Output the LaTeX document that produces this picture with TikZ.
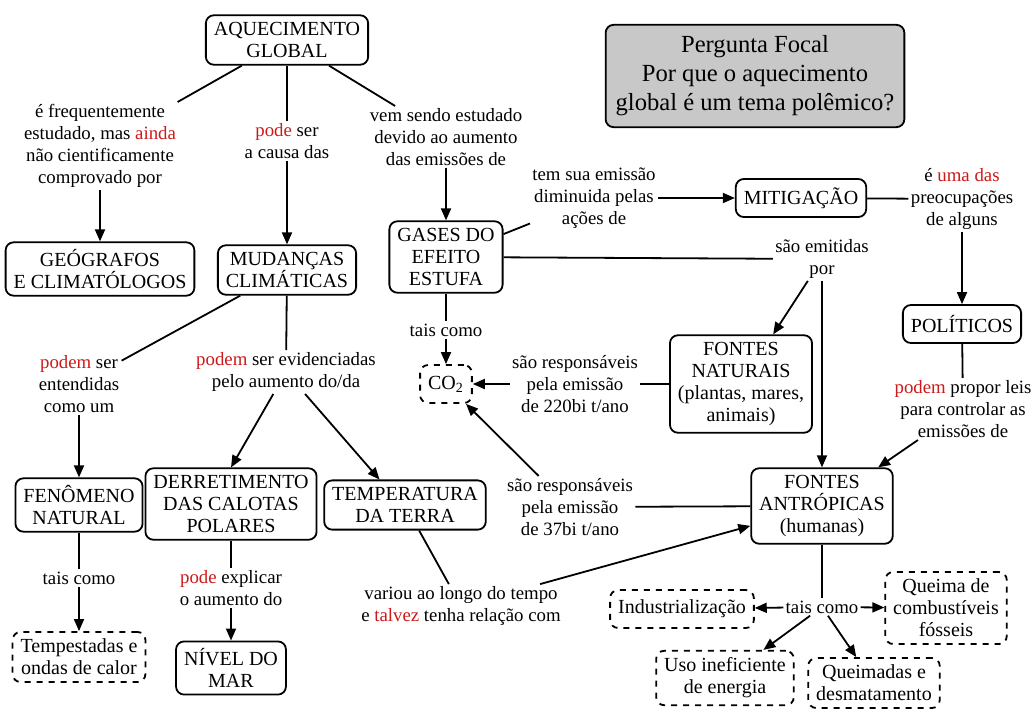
\documentclass[tikz,border=0pt]{standalone}
\usepackage{fontspec}
\setmainfont{Liberation Serif}
\usepackage{xcolor}
\definecolor{keyred}{RGB}{205,25,25}
\definecolor{focalgray}{RGB}{200,200,200}
\newcommand{\mapfont}{\fontsize{10}{11}\selectfont}
\newcommand{\linkfont}{\fontsize{9.4}{11}\selectfont}
\newcommand{\kw}[1]{\textcolor{keyred}{#1}}
\usepackage{tikz}
\usetikzlibrary{arrows.meta}

\begin{document}
\begin{tikzpicture}[
  x=0.5pt,y=-0.5pt,
  block/.style={rectangle,draw=black,line width=0.9pt,rounded corners=4pt,
                minimum height=19pt,align=center,inner xsep=4pt,inner ysep=3.5pt,font=\mapfont},
  dashblock/.style={block,dash pattern=on 3pt off 3pt},
  focal/.style={block,fill=focalgray,inner xsep=5pt,inner ysep=5.5pt,
                font=\fontsize{12.3}{14.5}\selectfont},
  linkword/.style={align=center,inner sep=1pt,font=\linkfont},
  arrow/.style={-{Triangle[length=6pt,width=5pt]},line width=0.9pt},
  link/.style={line width=0.9pt},
]
\useasboundingbox (0,0) rectangle (1034,713);

% concepts
\node[block]     (aq)  at (287,40)  {AQUECIMENTO\\GLOBAL};
\node[focal]     (foc) at (755,76)  {Pergunta Focal\\Por que o aquecimento\\global é um tema polêmico?};
\node[block]     (geo) at (100,269) {GEÓGRAFOS\\E CLIMATÓLOGOS};
\node[block]     (mud) at (287,270) {MUDANÇAS\\CLIMÁTICAS};
\node[block]     (gas) at (446,257) {GASES DO\\EFEITO\\ESTUFA};
\node[block]     (mit) at (801,198) {MITIGAÇÃO};
\node[block]     (pol) at (962,324) {POLÍTICOS};
\node[block]     (nat) at (741,384) {FONTES\\NATURAIS\\(plantas, mares,\\animais)};
\node[dashblock] (co2) at (446,384) {CO\textsubscript{2}};
\node[block]     (fen) at (79,505)  {FENÔMENO\\NATURAL};
\node[block]     (der) at (231,504) {DERRETIMENTO\\DAS CALOTAS\\POLARES};
\node[block]     (tmp) at (405,505) {TEMPERATURA\\DA TERRA};
\node[block]     (ant) at (822,506) {FONTES\\ANTRÓPICAS\\(humanas)};
\node[dashblock] (tpd) at (79,657)  {Tempestadas e\\ondas de calor};
\node[block]     (niv) at (231,668) {NÍVEL DO\\MAR};
\node[dashblock] (ind) at (682,609) {Industrialização};
\node[dashblock] (qcf) at (946,608) {Queima de\\combustíveis\\fósseis};
\node[dashblock] (uso) at (725,678) {Uso ineficiente\\de energia};
\node[dashblock] (qdm) at (874,683) {Queimadas e\\desmatamento};

% linking words
\node[linkword] (l1)  at (100,146) {é frequentemente\\estudado, mas \kw{ainda}\\não cientificamente\\comprovado por};
\node[linkword] (l2)  at (287,141) {\kw{pode} ser\\a causa das};
\node[linkword] (l3)  at (446,137) {vem sendo estudado\\devido ao aumento\\das emissões de};
\node[linkword] (l4)  at (594,198) {tem sua emissão\\diminuida pelas\\ações de};
\node[linkword] (l5)  at (962,199) {é \kw{uma das}\\preocupações\\de alguns};
\node[linkword] (l6)  at (822,259) {são emitidas\\por};
\node[linkword] (l7)  at (446,330) {tais como};
\node[linkword] (l8)  at (575,384) {são responsáveis\\pela emissão\\de 220bi t/ano};
\node[linkword] (l9)  at (570,507) {são responsáveis\\pela emissão\\de 37bi t/ano};
\node[linkword] (l10) at (963,409) {\kw{podem} propor leis\\para controlar as\\emissões de};
\node[linkword] (l11) at (79,384)  {\kw{podem} ser\\entendidas\\como um};
\node[linkword] (l12) at (286,372) {\kw{podem} ser evidenciadas\\pelo aumento do/da};
\node[linkword] (l13) at (79,578)  {tais como};
\node[linkword] (l14) at (231,588) {\kw{pode} explicar\\o aumento do};
\node[linkword] (l15) at (461,606) {variou ao longo do tempo\\e \kw{talvez} tenha relação com};
\node[linkword] (l16) at (822,607) {tais como};

% connections
\draw[link]  (aq)  -- (l1);
\draw[arrow] (l1)  -- (geo);
\draw[link]  (aq)  -- (l2);
\draw[arrow] (l2)  -- (mud);
\draw[link]  (aq)  -- (l3);
\draw[arrow] (l3)  -- (gas);
\draw[link]  (gas) -- (l4);
\draw[arrow] (l4)  -- (mit);
\draw[link]  (mit) -- (l5);
\draw[arrow] (l5)  -- (pol);
\draw[link]  (gas) -- (l6);
\draw[arrow] (l6)  -- (nat);
\draw[arrow] (l6)  -- (ant);
\draw[link]  (gas) -- (l7);
\draw[arrow] (l7)  -- (co2);
\draw[link]  (nat) -- (l8);
\draw[arrow] (l8)  -- (co2);
\draw[link]  (ant) -- (l9);
\draw[arrow] (l9)  -- (co2);
\draw[link]  (pol) -- (l10);
\draw[arrow] (l10) -- (ant);
\draw[link]  (mud) -- (l11);
\draw[arrow] (l11) -- (fen);
\draw[link]  (mud) -- (l12);
\draw[arrow] (l12) -- (der.north);
\draw[arrow] (l12) -- (tmp.135);
\draw[link]  (fen) -- (l13);
\draw[arrow] (l13) -- (tpd);
\draw[link]  (der) -- (l14);
\draw[arrow] (l14) -- (niv);
\draw[link]  (tmp) -- (l15);
\draw[arrow] (l15) -- (ant);
\draw[link]  (ant) -- (l16);
\draw[arrow] (l16) -- (ind);
\draw[arrow] (l16) -- (qcf);
\draw[arrow] (l16) -- (uso);
\draw[arrow] (l16) -- (qdm);

\end{tikzpicture}
\end{document}
